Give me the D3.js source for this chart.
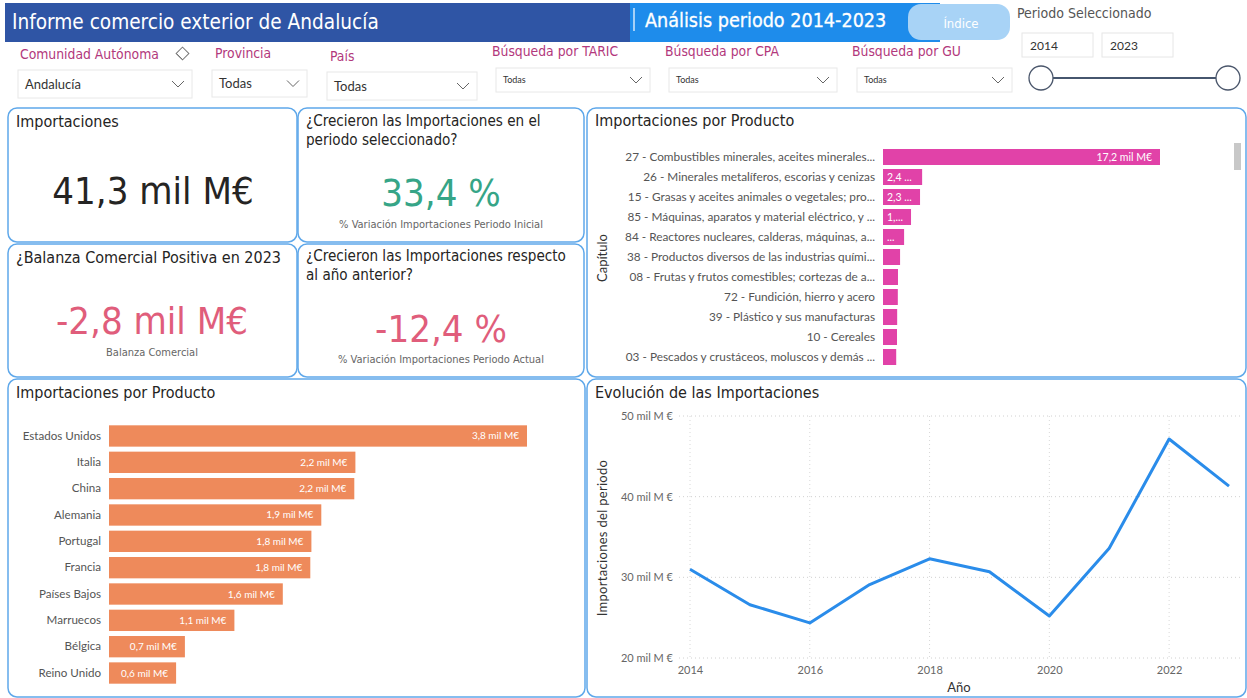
<!DOCTYPE html>
<html>
<head>
<meta charset="utf-8">
<script src="https://cdn.jsdelivr.net/npm/d3@7"></script>
<style>
  body { margin: 0; background: #fff; }
  svg { display: block; }
  .din { font-family: "DejaVu Sans Condensed", "DejaVu Sans", sans-serif; }
  .seg { font-family: Lato, "Open Sans", sans-serif; }
</style>
</head>
<body>
<svg id="dash" width="1247" height="698"></svg>
<script>
// ---- data ----
const kpiImport = "41,3 mil M€";
const kpiGrowthPeriod = "33,4 %";
const kpiBalance = "-2,8 mil M€";
const kpiGrowthYear = "-12,4 %";

const productos = [
  "27 - Combustibles minerales, aceites minerales...",
  "26 - Minerales metalíferos, escorias y cenizas",
  "15 - Grasas y aceites animales o vegetales; pro...",
  "85 - Máquinas, aparatos y material eléctrico, y ...",
  "84 - Reactores nucleares, calderas, máquinas, a...",
  "38 - Productos diversos de las industrias quími...",
  "08 - Frutas y frutos comestibles; cortezas de a...",
  "72 - Fundición, hierro y acero",
  "39 - Plástico y sus manufacturas",
  "10 - Cereales",
  "03 - Pescados y crustáceos, moluscos y demás ..."
];
const productoValores = [17.2, 2.43, 2.3, 1.74, 1.31, 1.06, 0.93, 0.92, 0.88, 0.87, 0.82];

const paises = ["Estados Unidos", "Italia", "China", "Alemania", "Portugal", "Francia",
                "Países Bajos", "Marruecos", "Bélgica", "Reino Unido"];
const paisValores = [3.8, 2.24, 2.23, 1.93, 1.84, 1.83, 1.58, 1.14, 0.69, 0.61];

const anios = [2014, 2015, 2016, 2017, 2018, 2019, 2020, 2021, 2022, 2023];
const importAnuales = [31.0, 26.6, 24.35, 29.1, 32.3, 30.7, 25.2, 33.6, 47.15, 41.3];
const yTicks = [20, 30, 40, 50];
const xTicks = [2014, 2016, 2018, 2020, 2022];

const filtros = [
  {label: "Comunidad Autónoma", value: "Andalucía"},
  {label: "Provincia", value: "Todas"},
  {label: "País", value: "Todas"},
  {label: "Búsqueda por TARIC", value: "Todas"},
  {label: "Búsqueda por CPA", value: "Todas"},
  {label: "Búsqueda por GU", value: "Todas"}
];

const svg = d3.select("#dash");
const fmt1 = v => d3.format(".1f")(v).replace(".", ",");

// ---- header ----
svg.append("rect").attr("x", 5).attr("y", 3).attr("width", 626).attr("height", 39).attr("fill", "#2F55A5");
svg.append("rect").attr("x", 630).attr("y", 3).attr("width", 310).attr("height", 39).attr("fill", "#1E8CEB");
svg.append("line").attr("x1", 634).attr("x2", 634).attr("y1", 8).attr("y2", 31)
    .attr("stroke", "#fff").attr("stroke-width", 1.2);
svg.append("text").attr("class", "din").attr("x", 12).attr("y", 29)
    .attr("font-size", 20.6).attr("fill", "#fff").text("Informe comercio exterior de Andalucía");
svg.append("text").attr("class", "din").attr("x", 645).attr("y", 27)
    .attr("font-size", 19.6).attr("fill", "#fff").attr("stroke", "#fff").attr("stroke-width", 0.3)
    .text("Análisis periodo 2014-2023");
svg.append("rect").attr("x", 908).attr("y", 4).attr("width", 102).attr("height", 36).attr("rx", 13)
    .attr("fill", "#A8D3F6");
svg.append("text").attr("class", "din").attr("x", 961).attr("y", 28).attr("text-anchor", "middle")
    .attr("font-size", 13).attr("fill", "#fff").text("Índice");

// periodo seleccionado
svg.append("text").attr("class", "din").attr("x", 1017).attr("y", 18)
    .attr("font-size", 14).attr("fill", "#555").text("Periodo Seleccionado");
[[1022, "2014"], [1102, "2023"]].forEach(([x, t]) => {
  svg.append("rect").attr("x", x).attr("y", 33).attr("width", 71).attr("height", 24)
      .attr("fill", "#fff").attr("stroke", "#e6e6e6");
  svg.append("text").attr("class", "seg").attr("x", x + 8).attr("y", 50)
      .attr("font-size", 12).attr("fill", "#333").text(t);
});
svg.append("line").attr("x1", 1053).attr("x2", 1216).attr("y1", 78).attr("y2", 78)
    .attr("stroke", "#46566e").attr("stroke-width", 2);
[1041, 1228].forEach(cx => {
  svg.append("circle").attr("cx", cx).attr("cy", 78).attr("r", 12)
      .attr("fill", "#fff").attr("stroke", "#4a566b").attr("stroke-width", 1.3);
});

// filtros
const filtroPos = [
  {lx: 20, ly: 59, bx: 18, by: 70, bw: 174, bh: 28, fs: 13},
  {lx: 215, ly: 58, bx: 212, by: 70, bw: 95, bh: 27, fs: 13},
  {lx: 330, ly: 61, bx: 327, by: 72, bw: 150, bh: 28, fs: 13},
  {lx: 492, ly: 56, bx: 496, by: 68, bw: 154, bh: 24, fs: 9},
  {lx: 665, ly: 56, bx: 669, by: 68, bw: 168, bh: 24, fs: 9},
  {lx: 852, ly: 56, bx: 857, by: 68, bw: 155, bh: 24, fs: 9}
];
filtros.forEach((f, i) => {
  const p = filtroPos[i];
  svg.append("text").attr("class", "din").attr("x", p.lx).attr("y", p.ly)
      .attr("font-size", 13.8).attr("fill", "#B2387C").text(f.label);
  svg.append("rect").attr("x", p.bx).attr("y", p.by).attr("width", p.bw).attr("height", p.bh)
      .attr("fill", "#fff").attr("stroke", "#e8e8e8");
  svg.append("text").attr("class", "seg").attr("x", p.bx + 7).attr("y", p.by + p.bh / 2 + p.fs * 0.38)
      .attr("font-size", p.fs).attr("fill", "#333").text(f.value);
  const cx = p.bx + p.bw - 14, cy = p.by + p.bh / 2;
  svg.append("path").attr("d", `M${cx - 6},${cy - 3} L${cx},${cy + 3} L${cx + 6},${cy - 3}`)
      .attr("fill", "none").attr("stroke", "#666").attr("stroke-width", 1);
});
// borrador
svg.append("rect").attr("x", 178).attr("y", 49).attr("width", 9).attr("height", 9)
    .attr("transform", "rotate(45 182.5 53.5)").attr("fill", "none").attr("stroke", "#777");
svg.append("line").attr("x1", 177).attr("y1", 54).attr("x2", 183).attr("y2", 60)
    .attr("stroke", "#777");

// ---- panels ----
function panel(x, y, w, h) {
  svg.append("rect").attr("x", x).attr("y", y).attr("width", w).attr("height", h).attr("rx", 9)
      .attr("fill", "#fff").attr("stroke", "#5FA8EA").attr("stroke-width", 1.5);
}
panel(8, 108, 289, 134);
panel(298, 108, 286, 134);
panel(8, 244, 289, 133);
panel(298, 244, 286, 133);
panel(587, 108, 659, 269);
panel(8, 379, 577, 318);
panel(587, 379, 659, 318);

function titulo(x, y, lines, fs) {
  lines.forEach((l, i) => svg.append("text").attr("class", "din").attr("x", x).attr("y", y + i * 19)
      .attr("font-size", fs || 16).attr("fill", "#252423").text(l));
}
function kpi(cx, cy, value, color, sub, subY) {
  svg.append("text").attr("class", "din").attr("x", cx).attr("y", cy).attr("text-anchor", "middle")
      .attr("font-size", 38).attr("fill", color).text(value);
  if (sub) svg.append("text").attr("class", "din").attr("x", cx).attr("y", subY).attr("text-anchor", "middle")
      .attr("font-size", 11).attr("fill", "#666").text(sub);
}
titulo(16, 127, ["Importaciones"]);
kpi(153, 204, kpiImport, "#252423");
titulo(306, 126, ["¿Crecieron las Importaciones en el", "periodo seleccionado?"], 15.1);
kpi(441, 206, kpiGrowthPeriod, "#36A587", "% Variación Importaciones Periodo Inicial", 228);
titulo(16, 263, ["¿Balanza Comercial Positiva en 2023"]);
kpi(152, 334, kpiBalance, "#E05D7B", "Balanza Comercial", 356);
titulo(306, 261, ["¿Crecieron las Importaciones respecto", "al año anterior?"], 15.1);
kpi(441, 342, kpiGrowthYear, "#E05D7B", "% Variación Importaciones Periodo Actual", 363);

// ---- importaciones por producto (capítulo) ----
titulo(595, 126, ["Importaciones por Producto"]);
svg.append("text").attr("class", "seg").attr("transform", "translate(607,258) rotate(-90)")
    .attr("text-anchor", "middle").attr("font-size", 13).attr("fill", "#333").text("Capítulo");

const yP = d3.scaleBand().domain(productos).range([148, 366]).paddingInner(0.2).paddingOuter(0.05);
const xP = d3.scaleLinear().domain([0, 17.2]).range([0, 277]);
const gP = svg.append("g").attr("transform", "translate(883,0)");
gP.append("g").attr("transform", "translate(-2,0)")
    .call(d3.axisLeft(yP).tickSize(0).tickPadding(6))
    .call(g => g.select(".domain").remove())
    .selectAll("text").attr("class", "seg").attr("font-size", 11.8).attr("fill", "#555");
gP.selectAll("rect.bar").data(productoValores).enter().append("rect")
    .attr("class", "bar")
    .attr("x", 0).attr("y", (d, i) => yP(productos[i]))
    .attr("width", d => xP(d)).attr("height", yP.bandwidth())
    .attr("fill", "#E142A8");
gP.selectAll("text.lbl").data(productoValores).enter().append("text")
    .attr("class", "lbl seg")
    .attr("y", (d, i) => yP(productos[i]) + yP.bandwidth() / 2 + 3.5)
    .attr("font-size", 10.5).attr("fill", "#fff")
    .each(function(d) {
      const t = d3.select(this);
      const w = xP(d);
      const full = fmt1(d) + " mil M€";
      t.text(full);
      if (this.getComputedTextLength() + 12 <= w) {
        t.attr("x", w - 8).attr("text-anchor", "end");
        return;
      }
      t.attr("x", 4).attr("text-anchor", "start");
      if (w < 20) { t.text(""); return; }
      let s = full;
      while (s.length > 0) {
        t.text(s + "...");
        if (this.getComputedTextLength() + 8 <= w) return;
        s = s.slice(0, -1);
      }
      t.text("...");
    });
// scrollbar
svg.append("rect").attr("x", 1234).attr("y", 143).attr("width", 7).attr("height", 27)
    .attr("fill", "#c8c8c8");

// ---- importaciones por país ----
titulo(16, 398, ["Importaciones por Producto"]);
const yC = d3.scaleBand().domain(paises).range([424, 685]).paddingInner(0.19).paddingOuter(0.05);
const xC = d3.scaleLinear().domain([0, 3.8]).range([0, 418]);
const gC = svg.append("g").attr("transform", "translate(109,0)");
gC.append("g").attr("transform", "translate(-2,0)")
    .call(d3.axisLeft(yC).tickSize(0).tickPadding(6))
    .call(g => g.select(".domain").remove())
    .selectAll("text").attr("class", "seg").attr("font-size", 11.6).attr("fill", "#555");
gC.selectAll("rect.bar").data(paisValores).enter().append("rect")
    .attr("class", "bar")
    .attr("x", 0).attr("y", (d, i) => yC(paises[i]))
    .attr("width", d => xC(d)).attr("height", yC.bandwidth())
    .attr("fill", "#EE8A5B");
gC.selectAll("text.lbl").data(paisValores).enter().append("text")
    .attr("class", "lbl seg")
    .attr("x", d => xC(d) - 8).attr("text-anchor", "end")
    .attr("y", (d, i) => yC(paises[i]) + yC.bandwidth() / 2 + 3.5)
    .attr("font-size", 10).attr("fill", "#fff")
    .text(d => fmt1(d) + " mil M€");

// ---- evolución ----
titulo(595, 398, ["Evolución de las Importaciones"]);
const xL = d3.scaleLinear().domain([2014, 2023]).range([690, 1229]);
const yL = d3.scaleLinear().domain([20, 50]).range([658, 416]);
const gL = svg.append("g");
gL.selectAll("line.hg").data(yTicks).enter().append("line")
    .attr("x1", 679).attr("x2", 1240).attr("y1", d => yL(d)).attr("y2", d => yL(d))
    .attr("stroke", "#d0d0d0").attr("stroke-dasharray", "1,3");
gL.selectAll("line.vg").data(xTicks).enter().append("line")
    .attr("x1", d => xL(d)).attr("x2", d => xL(d)).attr("y1", 416).attr("y2", 658)
    .attr("stroke", "#d8d8d8").attr("stroke-dasharray", "1,3");
gL.append("g").attr("transform", "translate(678,0)")
    .call(d3.axisLeft(yL).tickValues(yTicks).tickSize(0).tickPadding(5).tickFormat(d => d + " mil M €"))
    .call(g => g.select(".domain").remove())
    .selectAll("text").attr("class", "seg").attr("font-size", 11).attr("fill", "#666");
gL.append("g").attr("transform", "translate(0,662)")
    .call(d3.axisBottom(xL).tickValues(xTicks).tickSize(0).tickPadding(4).tickFormat(d3.format("d")))
    .call(g => g.select(".domain").remove())
    .selectAll("text").attr("class", "seg").attr("font-size", 11).attr("fill", "#666");
svg.append("text").attr("class", "seg").attr("x", 959).attr("y", 692).attr("text-anchor", "middle")
    .attr("font-size", 13).attr("fill", "#333").text("Año");
svg.append("text").attr("class", "seg").attr("transform", "translate(607,538) rotate(-90)")
    .attr("text-anchor", "middle").attr("font-size", 13).attr("fill", "#333").attr("letter-spacing", 0.3)
    .text("Importaciones del periodo");
const linea = d3.line().x((d, i) => xL(anios[i])).y(d => yL(d));
gL.append("path").datum(importAnuales).attr("d", linea)
    .attr("fill", "none").attr("stroke", "#2A8CEA").attr("stroke-width", 3).attr("stroke-linejoin", "round");
</script>
</body>
</html>
